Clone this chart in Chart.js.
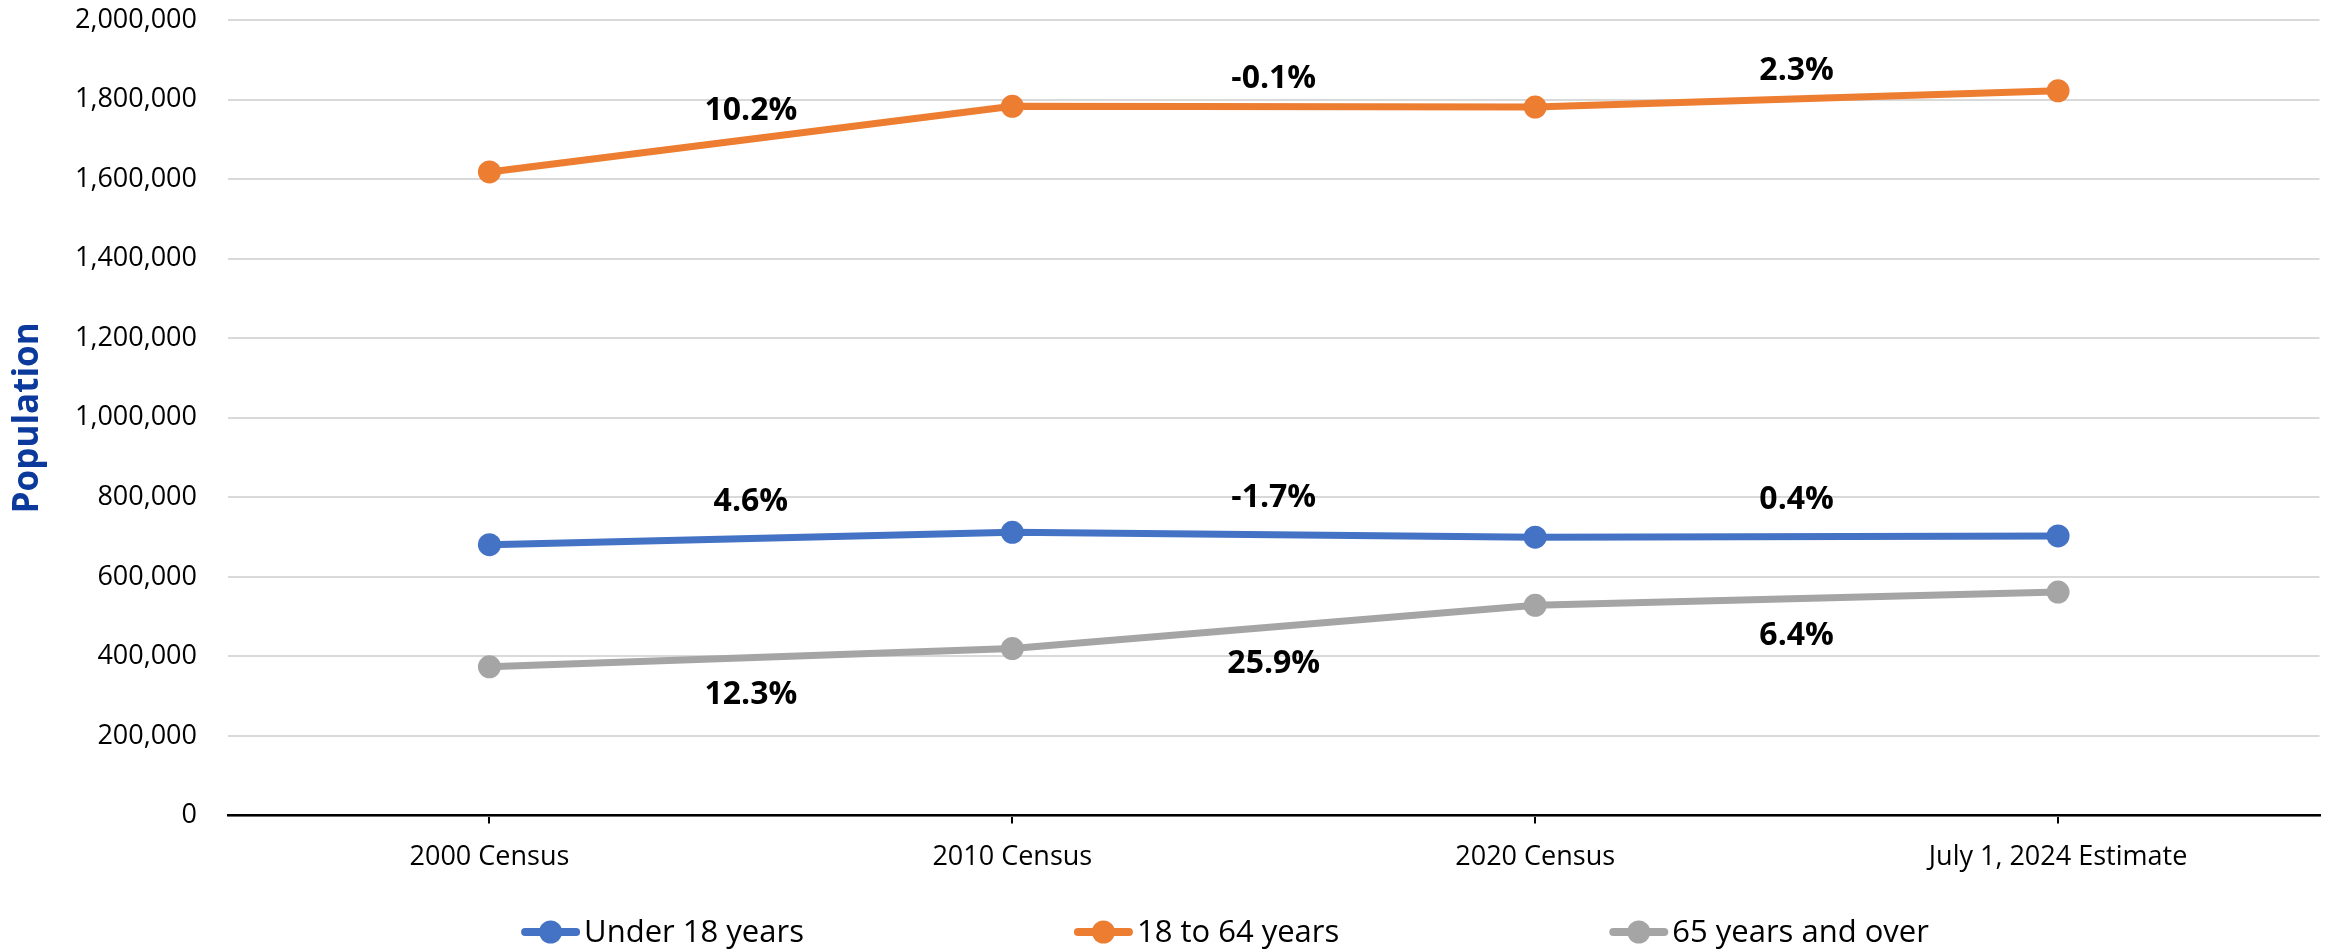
<!DOCTYPE html>
<html>
<head>
<meta charset="utf-8">
<title>Population by age group</title>
<script src="https://cdn.jsdelivr.net/npm/chart.js@4.4.1/dist/chart.umd.min.js"></script>
<style>
  html, body { margin: 0; padding: 0; background: #fff; }
  #wrap { width: 2331px; height: 951px; position: relative; }
</style>
</head>
<body>
<div id="wrap"><canvas id="chart"></canvas></div>
<script>
const categories = ['2000 Census', '2010 Census', '2020 Census', 'July 1, 2024 Estimate'];
const under18 = [681000, 712000, 700000, 703000];
const age18to64 = [1618000, 1783000, 1781000, 1822000];
const age65plus = [374000, 420000, 528500, 562000];
// percent change between consecutive points
const under18Change = ['4.6%', '-1.7%', '0.4%'];
const age18to64Change = ['10.2%', '-0.1%', '2.3%'];
const age65plusChange = ['12.3%', '25.9%', '6.4%'];

const FONT = "'Open Sans', 'Noto Sans', sans-serif";
Chart.defaults.font.family = FONT;
Chart.defaults.color = '#000';

const changeLabels = {
    id: 'changeLabels',
    afterDatasetsDraw(chart, args, opts) {
        const { ctx, scales: { x, y } } = chart;
        ctx.save();
        ctx.font = `bold ${opts.size}px ${FONT}`;
        ctx.fillStyle = '#000';
        ctx.textAlign = 'center';
        ctx.textBaseline = 'middle';
        chart.data.datasets.forEach((ds, i) => {
            (ds.changes || []).forEach((txt, j) => {
                const px = (x.getPixelForValue(j) + x.getPixelForValue(j + 1)) / 2;
                const py = (y.getPixelForValue(ds.data[j]) + y.getPixelForValue(ds.data[j + 1])) / 2;
                ctx.fillText(txt, px, py + opts.offsets[i]);
            });
        });
        ctx.restore();
    }
};

// Excel style legend: line with a marker, equal gaps between entries
const lineLegend = {
    id: 'lineLegend',
    afterDraw(chart, args, opts) {
        const ctx = chart.ctx;
        const sets = chart.data.datasets;
        ctx.save();
        ctx.font = `${opts.size}px ${FONT}`;
        ctx.textBaseline = 'middle';
        ctx.textAlign = 'left';
        const widths = sets.map(ds => opts.iconW + opts.textGap + ctx.measureText(ds.label).width);
        const total = widths.reduce((a, b) => a + b, 0) + opts.itemGap * (sets.length - 1);
        let x = opts.centerX - total / 2;
        const y = opts.y;
        sets.forEach((ds, i) => {
            const c = ds.borderColor;
            ctx.strokeStyle = c;
            ctx.lineWidth = 8;
            ctx.lineCap = 'round';
            ctx.beginPath(); ctx.moveTo(x + 4, y); ctx.lineTo(x + opts.iconW - 4, y); ctx.stroke();
            ctx.fillStyle = c;
            ctx.beginPath(); ctx.arc(x + opts.iconW / 2, y, 11.5, 0, Math.PI * 2); ctx.fill();
            ctx.fillStyle = '#000';
            ctx.fillText(ds.label, x + opts.iconW + opts.textGap, y + 1);
            x += widths[i] + opts.itemGap;
        });
        ctx.restore();
    }
};

function series(label, data, changes, color) {
    return {
        label, data, changes,
        borderColor: color,
        backgroundColor: color,
        borderWidth: 7,
        pointRadius: 11.5,
        pointHoverRadius: 11.5,
        pointBorderWidth: 0,
        pointBackgroundColor: color,
        tension: 0,
        fill: false
    };
}

new Chart(document.getElementById('chart'), {
    type: 'line',
    data: {
        labels: categories,
        datasets: [
            series('Under 18 years', under18, under18Change, '#4472C4'),
            series('18 to 64 years', age18to64, age18to64Change, '#ED7D31'),
            series('65 years and over', age65plus, age65plusChange, '#A5A5A5')
        ]
    },
    options: {
        responsive: true,
        maintainAspectRatio: false,
        animation: false,
        layout: { padding: { top: 20, right: 11, bottom: 59, left: 0 } },
        plugins: {
            tooltip: { enabled: false },
            legend: { display: false },
            changeLabels: { size: 32, offsets: [-37, -28, 37] },
            lineLegend: { size: 31, iconW: 59, textGap: 4, itemGap: 270, centerX: 1225, y: 932 }
        },
        scales: {
            x: {
                offset: true,
                grid: { display: true, drawOnChartArea: false, drawTicks: true, tickLength: 8, offset: false, color: '#000', lineWidth: 2 },
                border: { display: true, color: '#000', width: 2.5 },
                ticks: { font: { size: 27 }, padding: 18, maxRotation: 0, color: '#000' }
            },
            y: {
                min: 0,
                max: 2000000,
                grid: { color: '#d9d9d9', lineWidth: 2, drawTicks: false },
                border: { display: false },
                ticks: {
                    stepSize: 200000,
                    font: { size: 27 },
                    padding: 31,
                    color: '#000',
                    callback: v => v.toLocaleString('en-US')
                },
                title: {
                    display: true,
                    text: 'Population',
                    color: '#0B3A9C',
                    font: { size: 35, weight: 'bold' },
                    padding: { top: 7, bottom: 0 }
                },
                afterFit(scale) {
                    scale.width = 228;
                    scale.paddingTop = 0;
                }
            }
        }
    },
    plugins: [changeLabels, lineLegend]
});
</script>
</body>
</html>
